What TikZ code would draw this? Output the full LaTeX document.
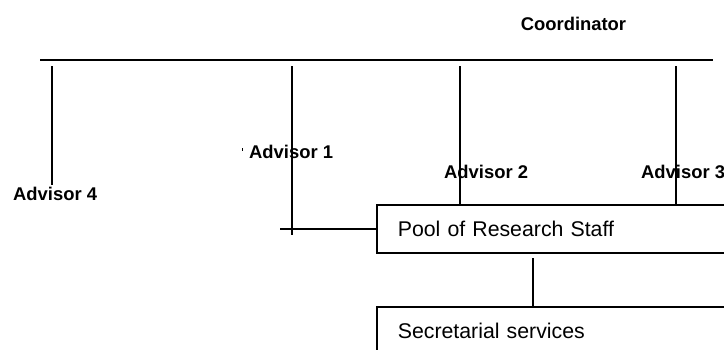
\documentclass[tikz,border=0pt]{standalone}
\usepackage{fontspec}
\setmainfont{Liberation Sans}
\begin{document}
\begin{tikzpicture}[x=1pt,y=-1pt,
  ln/.style={line width=1.6pt},
  lbl/.style={inner sep=0pt,anchor=west,font=\bfseries\fontsize{18.4}{20}\selectfont},
  boxnode/.style={draw,line width=1.6pt,anchor=north west,minimum height=48pt,
    text width=362pt,inner xsep=21pt,inner ysep=0pt,align=left,
    font=\fontsize{21.3}{24}\selectfont}]
\useasboundingbox (0,0) rectangle (724,349);
\clip (0,0) rectangle (724,349);
% labels
\node[inner sep=0pt,font=\bfseries\fontsize{18.4}{20}\selectfont] (coord) at (573.5,23.5) {Coordinator};
\node[lbl] (a1) at (249,152) {Advisor 1};
\node[lbl] (a2) at (444,172) {Advisor 2};
\node[lbl] (a3) at (641,172) {Advisor 3};
\node[lbl] (a4) at (13,194) {Advisor 4};
% boxes
\node[boxnode] (pool) at (376,204) {Pool of Research Staff};
\node[boxnode] (sec) at (376,306) {Secretarial services};
% coordinates
\coordinate (tl) at (40,60);
\coordinate (tr) at (713,60);
\coordinate (t1) at (52,66);
\coordinate (b1) at (52,185);
\coordinate (t2) at (292,66);
\coordinate (b2) at (292,235);
\coordinate (h2) at (280,229);
\coordinate (t3) at (460,66);
\coordinate (t4) at (676,66);
\coordinate (s1) at (533,258);
\coordinate (tk1) at (242,148);
\coordinate (tk2) at (242,151);
% connectors
\draw[ln] (tl) -- (tr);
\draw[ln] (t1) -- (b1);
\draw[ln] (t2) -- (b2);
\draw[ln] (h2) -- (pool.west |- h2);
\draw[ln] (t3) -- (t3 |- pool.north);
\draw[ln] (t4) -- (t4 |- pool.north);
\draw[ln] (s1) -- (s1 |- sec.north);
\draw[line width=0.8pt] (tk1) -- (tk2);
\end{tikzpicture}
\end{document}
